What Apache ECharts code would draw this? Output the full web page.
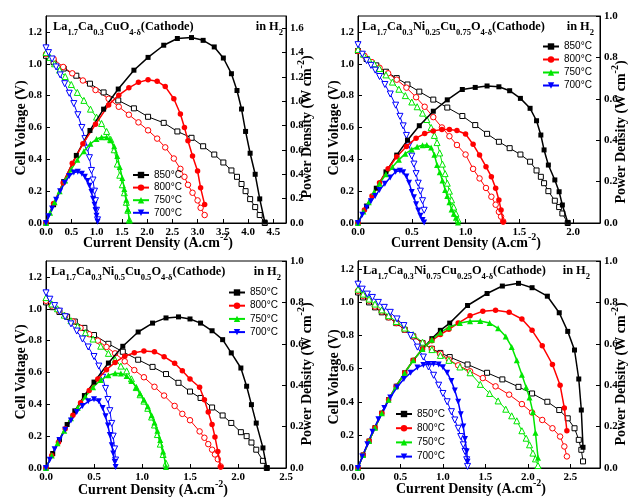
<!DOCTYPE html>
<html>
<head>
<meta charset="utf-8">
<script src="https://cdn.jsdelivr.net/npm/echarts@6/dist/echarts.min.js"></script>
<style>html,body{margin:0;padding:0;background:#fff}#c{width:628px;height:500px}</style>
</head>
<body>
<div id="c"></div>
<script>
// Current density (A/cm2), cell voltage (V) and power density (W/cm2) per cathode and temperature.

// La1.7Ca0.3CuO4-d
const I1_850 = [0, 0.15, 0.35, 0.6, 0.87, 1.14, 1.43, 1.74, 2.02, 2.33, 2.6, 2.88, 3.11, 3.33, 3.51, 3.67, 3.78, 3.87, 3.95, 4.04, 4.14, 4.23, 4.33];
const V1_850 = [1.05, 1.01, 0.97, 0.925, 0.875, 0.82, 0.77, 0.72, 0.667, 0.629, 0.575, 0.535, 0.482, 0.43, 0.38, 0.33, 0.29, 0.245, 0.2, 0.15, 0.1, 0.05, 0.0];
const P1_850 = [0, 0.15, 0.34, 0.555, 0.76, 0.935, 1.10, 1.255, 1.36, 1.46, 1.515, 1.523, 1.50, 1.446, 1.355, 1.226, 1.088, 0.936, 0.752, 0.573, 0.40, 0.198, 0.008];
const I1_800 = [0, 0.15, 0.34, 0.52, 0.73, 0.98, 1.24, 1.44, 1.64, 1.83, 2.02, 2.2, 2.36, 2.53, 2.66, 2.74, 2.81, 2.9, 3.0, 3.06, 3.14];
const V1_800 = [1.06, 1.03, 0.98, 0.94, 0.895, 0.835, 0.78, 0.73, 0.68, 0.632, 0.582, 0.53, 0.475, 0.405, 0.34, 0.29, 0.24, 0.19, 0.142, 0.095, 0.05];
const P1_800 = [0, 0.16, 0.33, 0.49, 0.65, 0.81, 0.97, 1.05, 1.11, 1.155, 1.176, 1.165, 1.12, 1.02, 0.895, 0.785, 0.675, 0.55, 0.427, 0.289, 0.151];
const I1_750 = [0, 0.08, 0.17, 0.27, 0.38, 0.5, 0.62, 0.75, 0.88, 1.0, 1.1, 1.2, 1.28, 1.35, 1.41, 1.46, 1.51, 1.55, 1.59, 1.62, 1.65];
const V1_750 = [1.07, 1.04, 1.0, 0.96, 0.92, 0.87, 0.82, 0.77, 0.715, 0.665, 0.625, 0.575, 0.525, 0.46, 0.37, 0.3, 0.24, 0.19, 0.13, 0.08, 0.02];
const P1_750 = [0, 0.085, 0.17, 0.26, 0.35, 0.44, 0.52, 0.59, 0.65, 0.69, 0.705, 0.705, 0.68, 0.63, 0.55, 0.46, 0.37, 0.28, 0.19, 0.11, 0.02];
const I1_700 = [0, 0.05, 0.12, 0.2, 0.28, 0.37, 0.46, 0.55, 0.63, 0.71, 0.77, 0.82, 0.86, 0.9, 0.93, 0.96, 0.98, 1.0, 1.02];
const V1_700 = [1.1, 1.07, 1.03, 0.98, 0.93, 0.875, 0.815, 0.75, 0.68, 0.6, 0.53, 0.47, 0.41, 0.33, 0.27, 0.2, 0.14, 0.08, 0.02];
const P1_700 = [0, 0.055, 0.12, 0.19, 0.26, 0.33, 0.385, 0.415, 0.42, 0.405, 0.38, 0.345, 0.305, 0.255, 0.2, 0.15, 0.105, 0.06, 0.01];

// La1.7Ca0.3Ni0.25Cu0.75O4-d
const I2_850 = [0, 0.08, 0.17, 0.26, 0.36, 0.46, 0.57, 0.7, 0.83, 0.97, 1.09, 1.2, 1.31, 1.41, 1.51, 1.6, 1.66, 1.7, 1.73, 1.77, 1.83, 1.87, 1.9, 1.95];
const V2_850 = [1.08, 1.03, 0.99, 0.95, 0.91, 0.87, 0.825, 0.775, 0.725, 0.672, 0.615, 0.56, 0.51, 0.47, 0.43, 0.385, 0.33, 0.29, 0.25, 0.2, 0.14, 0.1, 0.06, 0.0];
const P2_850 = [0, 0.082, 0.168, 0.247, 0.328, 0.4, 0.47, 0.54, 0.595, 0.645, 0.655, 0.662, 0.658, 0.639, 0.602, 0.554, 0.494, 0.425, 0.353, 0.28, 0.208, 0.151, 0.087, 0.003];
const I2_800 = [0, 0.06, 0.13, 0.2, 0.28, 0.36, 0.45, 0.54, 0.62, 0.7, 0.78, 0.85, 0.92, 1.0, 1.07, 1.13, 1.19, 1.24, 1.28, 1.31, 1.33, 1.35];
const V2_800 = [1.08, 1.05, 1.01, 0.975, 0.94, 0.9, 0.85, 0.79, 0.73, 0.665, 0.6, 0.545, 0.49, 0.43, 0.34, 0.28, 0.22, 0.165, 0.115, 0.07, 0.04, 0.01];
const P2_800 = [0, 0.063, 0.13, 0.195, 0.262, 0.32, 0.37, 0.41, 0.432, 0.445, 0.452, 0.452, 0.447, 0.43, 0.38, 0.328, 0.272, 0.224, 0.168, 0.111, 0.063, 0.005];
const I2_750 = [0, 0.05, 0.1, 0.15, 0.2, 0.26, 0.32, 0.38, 0.44, 0.5, 0.55, 0.6, 0.64, 0.68, 0.71, 0.735, 0.76, 0.785, 0.81, 0.83, 0.85, 0.87, 0.89, 0.91, 0.93];
const V2_750 = [1.09, 1.06, 1.03, 1.0, 0.97, 0.93, 0.885, 0.84, 0.8, 0.76, 0.73, 0.69, 0.65, 0.6, 0.55, 0.505, 0.44, 0.37, 0.31, 0.25, 0.2, 0.145, 0.1, 0.06, 0.02];
const P2_750 = [0, 0.055, 0.1, 0.15, 0.19, 0.235, 0.27, 0.305, 0.335, 0.355, 0.368, 0.376, 0.377, 0.365, 0.33, 0.28, 0.245, 0.205, 0.16, 0.13, 0.1, 0.065, 0.045, 0.025, 0.003];
const I2_700 = [0, 0.04, 0.08, 0.12, 0.16, 0.2, 0.25, 0.3, 0.35, 0.39, 0.42, 0.45, 0.475, 0.5, 0.52, 0.54, 0.56, 0.58, 0.6, 0.615];
const V2_700 = [1.12, 1.06, 1.02, 0.99, 0.96, 0.92, 0.87, 0.81, 0.74, 0.67, 0.61, 0.55, 0.49, 0.42, 0.37, 0.31, 0.25, 0.2, 0.14, 0.08];
const P2_700 = [0, 0.04, 0.075, 0.105, 0.13, 0.16, 0.19, 0.22, 0.248, 0.252, 0.245, 0.225, 0.195, 0.15, 0.125, 0.09, 0.06, 0.035, 0.015, 0.002];

// La1.7Ca0.3Ni0.5Cu0.5O4-d
const I3_850 = [0, 0.07, 0.14, 0.22, 0.3, 0.4, 0.5, 0.65, 0.8, 0.96, 1.11, 1.25, 1.38, 1.5, 1.61, 1.73, 1.84, 1.93, 2.03, 2.09, 2.14, 2.19, 2.26, 2.3];
const V3_850 = [1.04, 1.01, 0.98, 0.95, 0.92, 0.88, 0.835, 0.78, 0.73, 0.68, 0.635, 0.59, 0.535, 0.48, 0.44, 0.38, 0.33, 0.283, 0.225, 0.2, 0.16, 0.115, 0.045, 0.0];
const P3_850 = [0, 0.07, 0.137, 0.21, 0.276, 0.35, 0.415, 0.507, 0.588, 0.657, 0.70, 0.725, 0.73, 0.72, 0.70, 0.663, 0.62, 0.556, 0.483, 0.395, 0.306, 0.217, 0.097, 0.0];
const I3_800 = [0, 0.06, 0.13, 0.2, 0.28, 0.36, 0.45, 0.54, 0.63, 0.72, 0.82, 0.92, 1.02, 1.13, 1.23, 1.34, 1.42, 1.5, 1.6, 1.65, 1.69, 1.73, 1.76, 1.79, 1.82];
const V3_800 = [1.05, 1.02, 0.99, 0.955, 0.92, 0.88, 0.84, 0.8, 0.76, 0.72, 0.67, 0.615, 0.57, 0.51, 0.455, 0.39, 0.34, 0.3, 0.23, 0.19, 0.15, 0.115, 0.085, 0.055, 0.01];
const P3_800 = [0, 0.06, 0.125, 0.19, 0.255, 0.315, 0.375, 0.43, 0.475, 0.51, 0.54, 0.557, 0.565, 0.562, 0.538, 0.506, 0.47, 0.43, 0.39, 0.33, 0.27, 0.21, 0.15, 0.08, 0.005];
const I3_750 = [0, 0.06, 0.12, 0.19, 0.26, 0.33, 0.41, 0.49, 0.57, 0.65, 0.72, 0.78, 0.84, 0.89, 0.94, 0.98, 1.02, 1.06, 1.1, 1.13, 1.16, 1.19, 1.22, 1.25];
const V3_750 = [1.07, 1.03, 1.0, 0.96, 0.925, 0.89, 0.85, 0.81, 0.765, 0.72, 0.68, 0.64, 0.61, 0.56, 0.505, 0.46, 0.42, 0.375, 0.32, 0.27, 0.21, 0.15, 0.085, 0.03];
const P3_750 = [0, 0.06, 0.12, 0.18, 0.24, 0.29, 0.345, 0.39, 0.425, 0.448, 0.458, 0.457, 0.445, 0.42, 0.39, 0.36, 0.33, 0.298, 0.255, 0.22, 0.18, 0.135, 0.08, 0.005];
const I3_700 = [0, 0.04, 0.09, 0.14, 0.2, 0.26, 0.32, 0.38, 0.44, 0.5, 0.55, 0.59, 0.62, 0.645, 0.665, 0.685, 0.7, 0.715, 0.725];
const V3_700 = [1.1, 1.06, 1.02, 0.985, 0.95, 0.905, 0.86, 0.81, 0.76, 0.7, 0.64, 0.57, 0.5, 0.43, 0.36, 0.28, 0.2, 0.12, 0.05];
const P3_700 = [0, 0.04, 0.09, 0.135, 0.185, 0.23, 0.27, 0.3, 0.322, 0.332, 0.322, 0.29, 0.25, 0.205, 0.16, 0.11, 0.07, 0.03, 0.005];

// La1.7Ca0.3Ni0.75Cu0.25O4-d
const I4_850 = [0, 0.06, 0.13, 0.2, 0.28, 0.36, 0.45, 0.55, 0.65, 0.76, 0.87, 0.97, 1.08, 1.29, 1.52, 1.7, 1.89, 2.05, 2.23, 2.37, 2.47, 2.55, 2.6, 2.63, 2.65];
const V4_850 = [1.06, 1.03, 1.0, 0.97, 0.94, 0.91, 0.875, 0.835, 0.795, 0.755, 0.72, 0.695, 0.67, 0.625, 0.575, 0.535, 0.49, 0.45, 0.4, 0.35, 0.3, 0.24, 0.17, 0.11, 0.04];
const P4_850 = [0, 0.063, 0.13, 0.195, 0.265, 0.33, 0.395, 0.46, 0.52, 0.575, 0.625, 0.665, 0.70, 0.785, 0.843, 0.879, 0.892, 0.871, 0.83, 0.75, 0.66, 0.57, 0.43, 0.28, 0.1];
const I4_800 = [0, 0.06, 0.13, 0.2, 0.28, 0.36, 0.45, 0.55, 0.65, 0.76, 0.87, 0.97, 1.07, 1.18, 1.32, 1.47, 1.62, 1.78, 1.93, 2.05, 2.17, 2.29, 2.38, 2.43, 2.46];
const V4_800 = [1.07, 1.04, 1.01, 0.975, 0.945, 0.91, 0.875, 0.835, 0.795, 0.755, 0.72, 0.69, 0.655, 0.62, 0.584, 0.543, 0.493, 0.443, 0.386, 0.335, 0.29, 0.24, 0.19, 0.13, 0.07];
const P4_800 = [0, 0.063, 0.13, 0.195, 0.265, 0.33, 0.395, 0.46, 0.52, 0.575, 0.615, 0.645, 0.67, 0.7, 0.735, 0.757, 0.762, 0.752, 0.72, 0.665, 0.59, 0.5, 0.4, 0.29, 0.18];
const I4_750 = [0, 0.06, 0.13, 0.2, 0.28, 0.36, 0.45, 0.55, 0.65, 0.76, 0.87, 0.97, 1.07, 1.2, 1.32, 1.44, 1.55, 1.65, 1.74, 1.81, 1.87, 1.93, 1.98, 2.02, 2.06, 2.09, 2.12];
const V4_750 = [1.08, 1.05, 1.02, 0.99, 0.955, 0.92, 0.885, 0.845, 0.805, 0.76, 0.715, 0.68, 0.65, 0.61, 0.575, 0.505, 0.45, 0.405, 0.355, 0.315, 0.285, 0.225, 0.18, 0.14, 0.09, 0.055, 0.015];
const P4_750 = [0, 0.063, 0.13, 0.195, 0.265, 0.33, 0.395, 0.46, 0.52, 0.575, 0.62, 0.655, 0.68, 0.7, 0.709, 0.71, 0.7, 0.675, 0.635, 0.585, 0.52, 0.45, 0.39, 0.34, 0.27, 0.17, 0.05];
const I4_700 = [0, 0.05, 0.11, 0.17, 0.24, 0.31, 0.38, 0.46, 0.54, 0.62, 0.7, 0.77, 0.83, 0.89, 0.95, 1.0, 1.05, 1.1, 1.14, 1.18, 1.21, 1.24, 1.26, 1.28, 1.29];
const V4_700 = [1.11, 1.08, 1.05, 1.03, 1.0, 0.97, 0.94, 0.9, 0.86, 0.8, 0.73, 0.67, 0.61, 0.56, 0.5, 0.45, 0.4, 0.34, 0.29, 0.24, 0.19, 0.14, 0.1, 0.05, 0.01];
const P4_700 = [0, 0.055, 0.115, 0.175, 0.235, 0.29, 0.34, 0.39, 0.43, 0.46, 0.485, 0.498, 0.503, 0.503, 0.5, 0.487, 0.46, 0.42, 0.375, 0.32, 0.26, 0.2, 0.14, 0.08, 0.03];

const temps = ['850°C', '800°C', '750°C', '700°C'];
const xMax = [4.75, 2.25, 2.5, 2.85];
const vMax = [1.3, 1.3, 1.3, 1.25];
const pMax = [1.7, 1.0, 1.0, 1.0];

const panels = [
  { I: [I1_850, I1_800, I1_750, I1_700], V: [V1_850, V1_800, V1_750, V1_700], P: [P1_850, P1_800, P1_750, P1_700] },
  { I: [I2_850, I2_800, I2_750, I2_700], V: [V2_850, V2_800, V2_750, V2_700], P: [P2_850, P2_800, P2_750, P2_700] },
  { I: [I3_850, I3_800, I3_750, I3_700], V: [V3_850, V3_800, V3_750, V3_700], P: [P3_850, P3_800, P3_750, P3_700] },
  { I: [I4_850, I4_800, I4_750, I4_700], V: [V4_850, V4_800, V4_750, V4_700], P: [P4_850, P4_800, P4_750, P4_700] }
];

const colors = ['#000000', '#ff0000', '#00e600', '#0000ff'];
const symbols = ['rect', 'circle', 'triangle', 'path://M0,0L10,0L5,9Z'];
const symSize = [5, 5.5, 6, 6];

const SERIF = "'Liberation Serif','Times New Roman',serif";
const SANS = "'Liberation Sans Narrow','Liberation Sans',Arial,sans-serif";

const grids = [
  { left: 46, top: 16, width: 240, height: 207 },
  { left: 358, top: 16, width: 242, height: 207 },
  { left: 46, top: 261, width: 240, height: 207 },
  { left: 358, top: 261, width: 242, height: 207 }
];

const tickLabel = { fontFamily: SERIF, fontWeight: 'bold', fontSize: 11, color: '#000' };
const fmt = v => v.toFixed(1);

const xAxes = [], yAxes = [], series = [];
grids.forEach((g, p) => {
  g.show = true; g.borderColor = '#000'; g.borderWidth = 1; g.backgroundColor = 'transparent';
  xAxes.push({
    type: 'value', gridIndex: p, min: 0, max: xMax[p], interval: 0.5,
    axisLine: { show: true, onZero: false, lineStyle: { color: '#000', width: 1 } },
    axisTick: { show: true, inside: true, length: 4, lineStyle: { color: '#000' } },
    axisLabel: Object.assign({ margin: 4, formatter: fmt, showMinLabel: true, showMaxLabel: p === 2 }, tickLabel),
    splitLine: { show: false }
  });
  yAxes.push({
    type: 'value', gridIndex: p, position: 'left', min: 0, max: vMax[p], interval: 0.2,
    axisLine: { show: true, onZero: false, lineStyle: { color: '#000', width: 1 } },
    axisTick: { show: true, inside: true, length: 4, lineStyle: { color: '#000' } },
    axisLabel: Object.assign({ margin: 4, formatter: fmt, showMinLabel: true, showMaxLabel: false }, tickLabel),
    splitLine: { show: false }
  });
  yAxes.push({
    type: 'value', gridIndex: p, position: 'right', min: 0, max: pMax[p], interval: 0.2,
    axisLine: { show: true, onZero: false, lineStyle: { color: '#000', width: 1 } },
    axisTick: { show: true, inside: true, length: 4, lineStyle: { color: '#000' } },
    axisLabel: Object.assign({ margin: 4, formatter: fmt, showMinLabel: true, showMaxLabel: pMax[p] === 1.0 }, tickLabel),
    splitLine: { show: false }
  });
  const d = panels[p];
  for (let t = 0; t < 4; t++) {
    // cell voltage: open markers on the left axis
    series.push({
      type: 'line', name: temps[t] + ' voltage', xAxisIndex: p, yAxisIndex: 2 * p,
      data: d.I[t].map((x, k) => [x, d.V[t][k]]),
      symbol: symbols[t], symbolSize: symSize[t], showSymbol: true, showAllSymbol: true,
      lineStyle: { color: colors[t], width: 1 },
      itemStyle: { color: '#ffffff', borderColor: colors[t], borderWidth: 1 },
      z: 2, animation: false, silent: true
    });
  }
  for (let t = 0; t < 4; t++) {
    // power density: filled markers on the right axis
    series.push({
      type: 'line', name: temps[t], xAxisIndex: p, yAxisIndex: 2 * p + 1,
      data: d.I[t].map((x, k) => [x, d.P[t][k]]),
      symbol: symbols[t], symbolSize: symSize[t], showSymbol: true, showAllSymbol: true,
      lineStyle: { color: colors[t], width: 1.5 },
      itemStyle: { color: colors[t], borderColor: colors[t], borderWidth: 0 },
      z: 3, animation: false, silent: true
    });
  }
});

const legendPos = [
  { left: 132, top: 170, itemGap: 2.6 },
  { left: 542, top: 41.5, itemGap: 3 },
  { left: 228, top: 287.5, itemGap: 3.2 },
  { left: 395, top: 409, itemGap: 4.2 }
];
const legends = legendPos.map(lp => ({
  orient: 'vertical', left: lp.left, top: lp.top, itemGap: lp.itemGap,
  itemWidth: 16, itemHeight: 8, padding: 0, selectedMode: false,
  data: temps,
  textStyle: { fontFamily: SANS, fontSize: 10, color: '#000', lineHeight: 10 }
}));

// rich text styles: n = normal, b = subscript, t = superscript
function rich(size) {
  const lh = size + 7, small = Math.round(size * 0.68);
  return {
    n: { fontFamily: SERIF, fontWeight: 'bold', fontSize: size, lineHeight: lh, verticalAlign: 'middle', fill: '#000' },
    b: { fontFamily: SERIF, fontWeight: 'bold', fontSize: small, lineHeight: lh, verticalAlign: 'bottom', fill: '#000' },
    t: { fontFamily: SERIF, fontWeight: 'bold', fontSize: small, lineHeight: lh, verticalAlign: 'top', fill: '#000' }
  };
}
function txt(text, x, y, size, align, rot, sx) {
  return {
    type: 'text', x: x, y: y, rotation: rot || 0, scaleX: sx || 1, silent: true, z: 10,
    style: { text: text, rich: rich(size), align: align, verticalAlign: 'middle' }
  };
}

const cathodes = [
  '{n|La}{b|1.7}{n|Ca}{b|0.3}{n|CuO}{b|4-δ}{n|(Cathode)}',
  '{n|La}{b|1.7}{n|Ca}{b|0.3}{n|Ni}{b|0.25}{n|Cu}{b|0.75}{n|O}{b|4-δ}{n|(Cathode)}',
  '{n|La}{b|1.7}{n|Ca}{b|0.3}{n|Ni}{b|0.5}{n|Cu}{b|0.5}{n|O}{b|4-δ}{n|(Cathode)}',
  '{n|La}{b|1.7}{n|Ca}{b|0.3}{n|Ni}{b|0.75}{n|Cu}{b|0.25}{n|O}{b|4-δ}{n|(Cathode)}'
];
const gasLabel = '{n|in H}{b|2}';
const xTitle = '{n|Current Density (A.cm}{t|-2}{n|)}';
const vTitle = '{n|Cell Voltage (V)}';
const pTitle = '{n|Power Density (W cm}{t|-2}{n|)}';

const R = Math.PI / 2;
const graphics = [
  txt(cathodes[0], 53, 27, 13, 'left', 0, 0.95),
  txt(cathodes[1], 362, 27, 13, 'left', 0, 0.95),
  txt(cathodes[2], 51, 272, 13, 'left', 0, 0.95),
  txt(cathodes[3], 363, 271, 13, 'left', 0, 0.95),
  txt(gasLabel, 283, 27, 13, 'right', 0, 0.95),
  txt(gasLabel, 594, 27, 13, 'right', 0, 0.95),
  txt(gasLabel, 281, 272, 13, 'right', 0, 0.95),
  txt(gasLabel, 590, 271, 13, 'right', 0, 0.95),
  txt(xTitle, 158, 243, 14, 'center'),
  txt(xTitle, 466, 243, 14, 'center'),
  txt(xTitle, 153, 490, 14, 'center'),
  txt(xTitle, 471, 489, 14, 'center'),
  txt(vTitle, 21, 128, 14, 'center', R),
  txt(vTitle, 334, 128, 14, 'center', R),
  txt(vTitle, 21, 372, 14, 'center', R),
  txt(vTitle, 334, 377, 14, 'center', R),
  txt(pTitle, 307, 127, 14, 'center', R),
  txt(pTitle, 621, 132, 14, 'center', R),
  txt(pTitle, 307, 374, 14, 'center', R),
  txt(pTitle, 621, 374, 14, 'center', R)
];

const chart = echarts.init(document.getElementById('c'), null, { renderer: 'canvas' });
chart.setOption({
  backgroundColor: '#ffffff',
  animation: false,
  grid: grids,
  xAxis: xAxes,
  yAxis: yAxes,
  legend: legends,
  series: series,
  graphic: graphics
});
</script>
</body>
</html>
